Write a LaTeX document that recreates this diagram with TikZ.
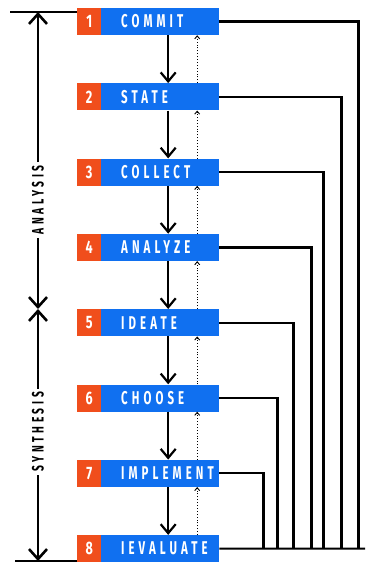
\documentclass[tikz,border=0pt]{standalone}
\usepackage{fontspec}
\setmainfont{Fira Sans}
\newfontfamily\stepfont[FakeStretch=0.62,LetterSpace=22]{Fira Sans}
\newfontfamily\numfont[FakeStretch=0.7]{Fira Sans}
\usetikzlibrary{arrows.meta}
\definecolor{stepblue}{RGB}{16,112,240}
\definecolor{steporange}{RGB}{240,78,28}
\begin{document}
\begin{tikzpicture}[x=1pt,y=-1pt,
  bluebox/.style={fill=stepblue, minimum height=27pt, text width=118pt, inner xsep=0pt, inner ysep=0pt, align=left, text=white, font=\stepfont\bfseries\fontsize{18.5}{18.5}\selectfont, anchor=west},
  numbox/.style={fill=steporange, minimum height=27pt, minimum width=24pt, inner sep=0pt, text=white, font=\numfont\bfseries\fontsize{18}{18}\selectfont, anchor=west},
  flow/.style={line width=2.2pt, -{Straight Barb[length=9pt,width=15pt,line width=2.2pt]}},
  back/.style={line width=0.9pt, dotted, -{Straight Barb[length=3pt,width=5pt,line width=0.9pt]}},
  fb/.style={line width=2.2pt},
  brk/.style={line width=2.6pt, arrows={-{Straight Barb[length=10pt,width=18pt,line width=2.6pt]}}},
  lab/.style={fill=white, inner sep=3pt, rotate=90, font=\stepfont\bfseries\fontsize{16.5}{16.5}\selectfont},
]
\useasboundingbox (0,0) rectangle (365,563);
\foreach \i/\t in {1/COMMIT,2/STATE,3/COLLECT,4/ANALYZE,5/IDEATE,6/CHOOSE,7/IMPLEMENT,8/IEVALUATE}{
  \node[numbox] (n\i) at (77,{21.5+(\i-1)*75.3}) {\i};
  \node[bluebox] (b\i) at (101,{21.5+(\i-1)*75.3}) {\hspace*{20pt}\t};
}
\foreach \i in {1,...,7}{
  \pgfmathtruncatemacro{\j}{\i+1}
  \draw[flow] ([xshift=8pt]b\i.south) -- ([xshift=8pt]b\j.north);
  \draw[back] ([xshift=37pt]b\j.north) -- ([xshift=37pt]b\i.south);
}
\foreach \i/\d in {1/139,2/122,3/104,4/92,5/74,6/58,7/44}{
  \draw[fb] (b\i.east) -| ([xshift=\d pt]b8.east);
}
\coordinate (rend) at (365,548.6);
\draw[fb] (b8.east) -- (rend);
% left brackets
\coordinate (tl) at (10,12);
\coordinate (bl) at (15,561);
\draw[line width=2.6pt] (tl) -- (n1.west |- tl);
\draw[line width=2.6pt] (bl) -- (n8.west |- bl);
\coordinate (atop) at (38,12);
\coordinate (amid) at (38,309);
\coordinate (abot) at (38,561);
\node[lab] (ana) at (38,200) {ANALYSIS};
\node[lab] (syn) at (38,432) {SYNTHESIS};
\draw[brk] (ana) -- (atop);
\draw[brk] (ana) -- (amid);
\draw[brk] (syn) -- (amid);
\draw[brk] (syn) -- (abot);
\end{tikzpicture}
\end{document}
